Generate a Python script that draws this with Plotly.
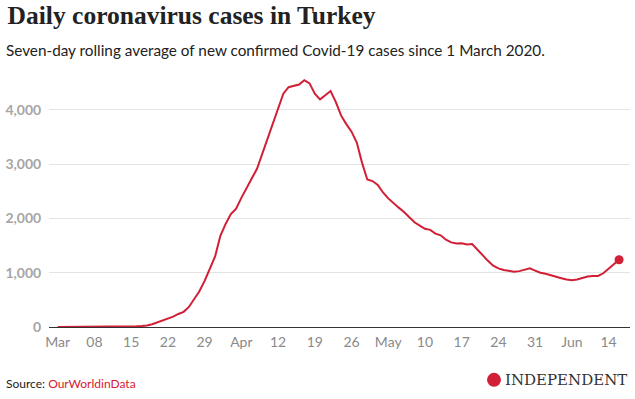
import plotly.graph_objects as go
import pandas as pd

# Seven-day rolling average of new confirmed cases, daily from 1 March 2020
cases = [0, 0, 0, 0, 0, 0, 0, 0, 0, 0,
         0, 1, 2, 4, 7, 12, 18, 27, 50, 85,
         115, 150, 190, 240, 280, 370, 520, 660, 850, 1080,
         1300, 1680, 1900, 2080, 2180, 2380, 2550, 2740, 2920, 3200,
         3480, 3780, 4060, 4300, 4420, 4440, 4470, 4550, 4490, 4300,
         4195, 4270, 4350, 4150, 3900, 3740, 3600, 3400, 3030, 2720,
         2690, 2620, 2480, 2370, 2280, 2200, 2120, 2020, 1930, 1870,
         1810, 1790, 1720, 1690, 1610, 1560, 1540, 1545, 1520, 1530,
         1420, 1320, 1220, 1130, 1080, 1050, 1030, 1020, 1030, 1060,
         1080, 1040, 1000, 980, 950, 930, 900, 875, 860, 875,
         905, 930, 940, 940, 990, 1070, 1160, 1240]
dates = pd.date_range("2020-03-01", periods=len(cases), freq="D")

tick_dates = pd.date_range("2020-03-01", periods=16, freq="7D")
tick_labels = ["Mar", "08", "15", "22", "29", "Apr", "12", "19", "26",
               "May", "10", "17", "24", "31", "Jun", "14"]
y_ticks = [0, 1000, 2000, 3000, 4000]
y_labels = ["0", "1,000", "2,000", "3,000", "4,000"]

RED = "#d11f35"

fig = go.Figure()
fig.add_trace(go.Scatter(x=dates, y=cases, mode="lines",
                         line=dict(color=RED, width=2), hoverinfo="skip"))
fig.add_trace(go.Scatter(x=[dates[-1]], y=[cases[-1]], mode="markers",
                         marker=dict(color=RED, size=9), hoverinfo="skip"))

fig.update_layout(
    width=635, height=399,
    margin=dict(l=49, r=5, t=72, b=72),
    paper_bgcolor="white", plot_bgcolor="white",
    showlegend=False,
    font=dict(family="Lato", color="#888888"),
    title=dict(text="Daily coronavirus cases in Turkey",
               font=dict(family="Liberation Serif", size=25.5, color="#222222",
                         weight="bold"),
               x=0.012, xanchor="left", y=0.984, yanchor="top"),
)
fig.update_xaxes(
    type="date",
    range=["2020-02-28 08:00", "2020-06-18 02:00"],
    tickvals=tick_dates, ticktext=tick_labels,
    showgrid=False, zeroline=False,
    showline=True, linecolor="#333333", linewidth=1,
    ticks="outside", ticklen=2, tickcolor="rgba(0,0,0,0)",
    tickfont=dict(family="Lato", size=14, color="#8a8a8a"),
)
fig.update_yaxes(
    range=[0, 4700],
    tickvals=y_ticks, ticktext=y_labels,
    showgrid=True, gridcolor="#e4e4e4", gridwidth=1,
    zeroline=False, showline=False,
    ticks="outside", ticklen=4, tickcolor="rgba(0,0,0,0)",
    tickfont=dict(family="Lato", size=14, color="#a5a5a5", weight="bold"),
)

fig.add_annotation(
    text="Seven-day rolling average of new confirmed Covid-19 cases since 1 March 2020.",
    xref="paper", yref="paper", x=-45/581, y=1 + (72 - 50) / 254.7,
    xanchor="left", yanchor="middle", showarrow=False,
    font=dict(family="Lato", size=15.3, color="#222222"),
)
fig.add_annotation(
    text="Source: <span style='color:#d5202e'>OurWorldinData</span>",
    xref="paper", yref="paper", x=-45/581, y=-(383 - 326.7) / 254.7,
    xanchor="left", yanchor="middle", showarrow=False,
    font=dict(family="Lato", size=12, color="#222222"),
)
fig.add_annotation(
    text="INDEPENDENT",
    xref="paper", yref="paper", x=(629 - 49) / 581, y=-(379.5 - 326.7) / 254.7,
    xanchor="right", yanchor="middle", showarrow=False,
    font=dict(family="DejaVu Serif", size=15, color="#333333"),
)
fig.add_shape(type="circle", xref="paper", yref="paper",
              x0=(487 - 49) / 581, x1=(501 - 49) / 581,
              y0=-(386.5 - 326.7) / 254.7, y1=-(372.5 - 326.7) / 254.7,
              fillcolor=RED, line=dict(width=0))

fig.write_html("out.html", config={"displayModeBar": False},
               post_script="document.body.style.margin='0';")
